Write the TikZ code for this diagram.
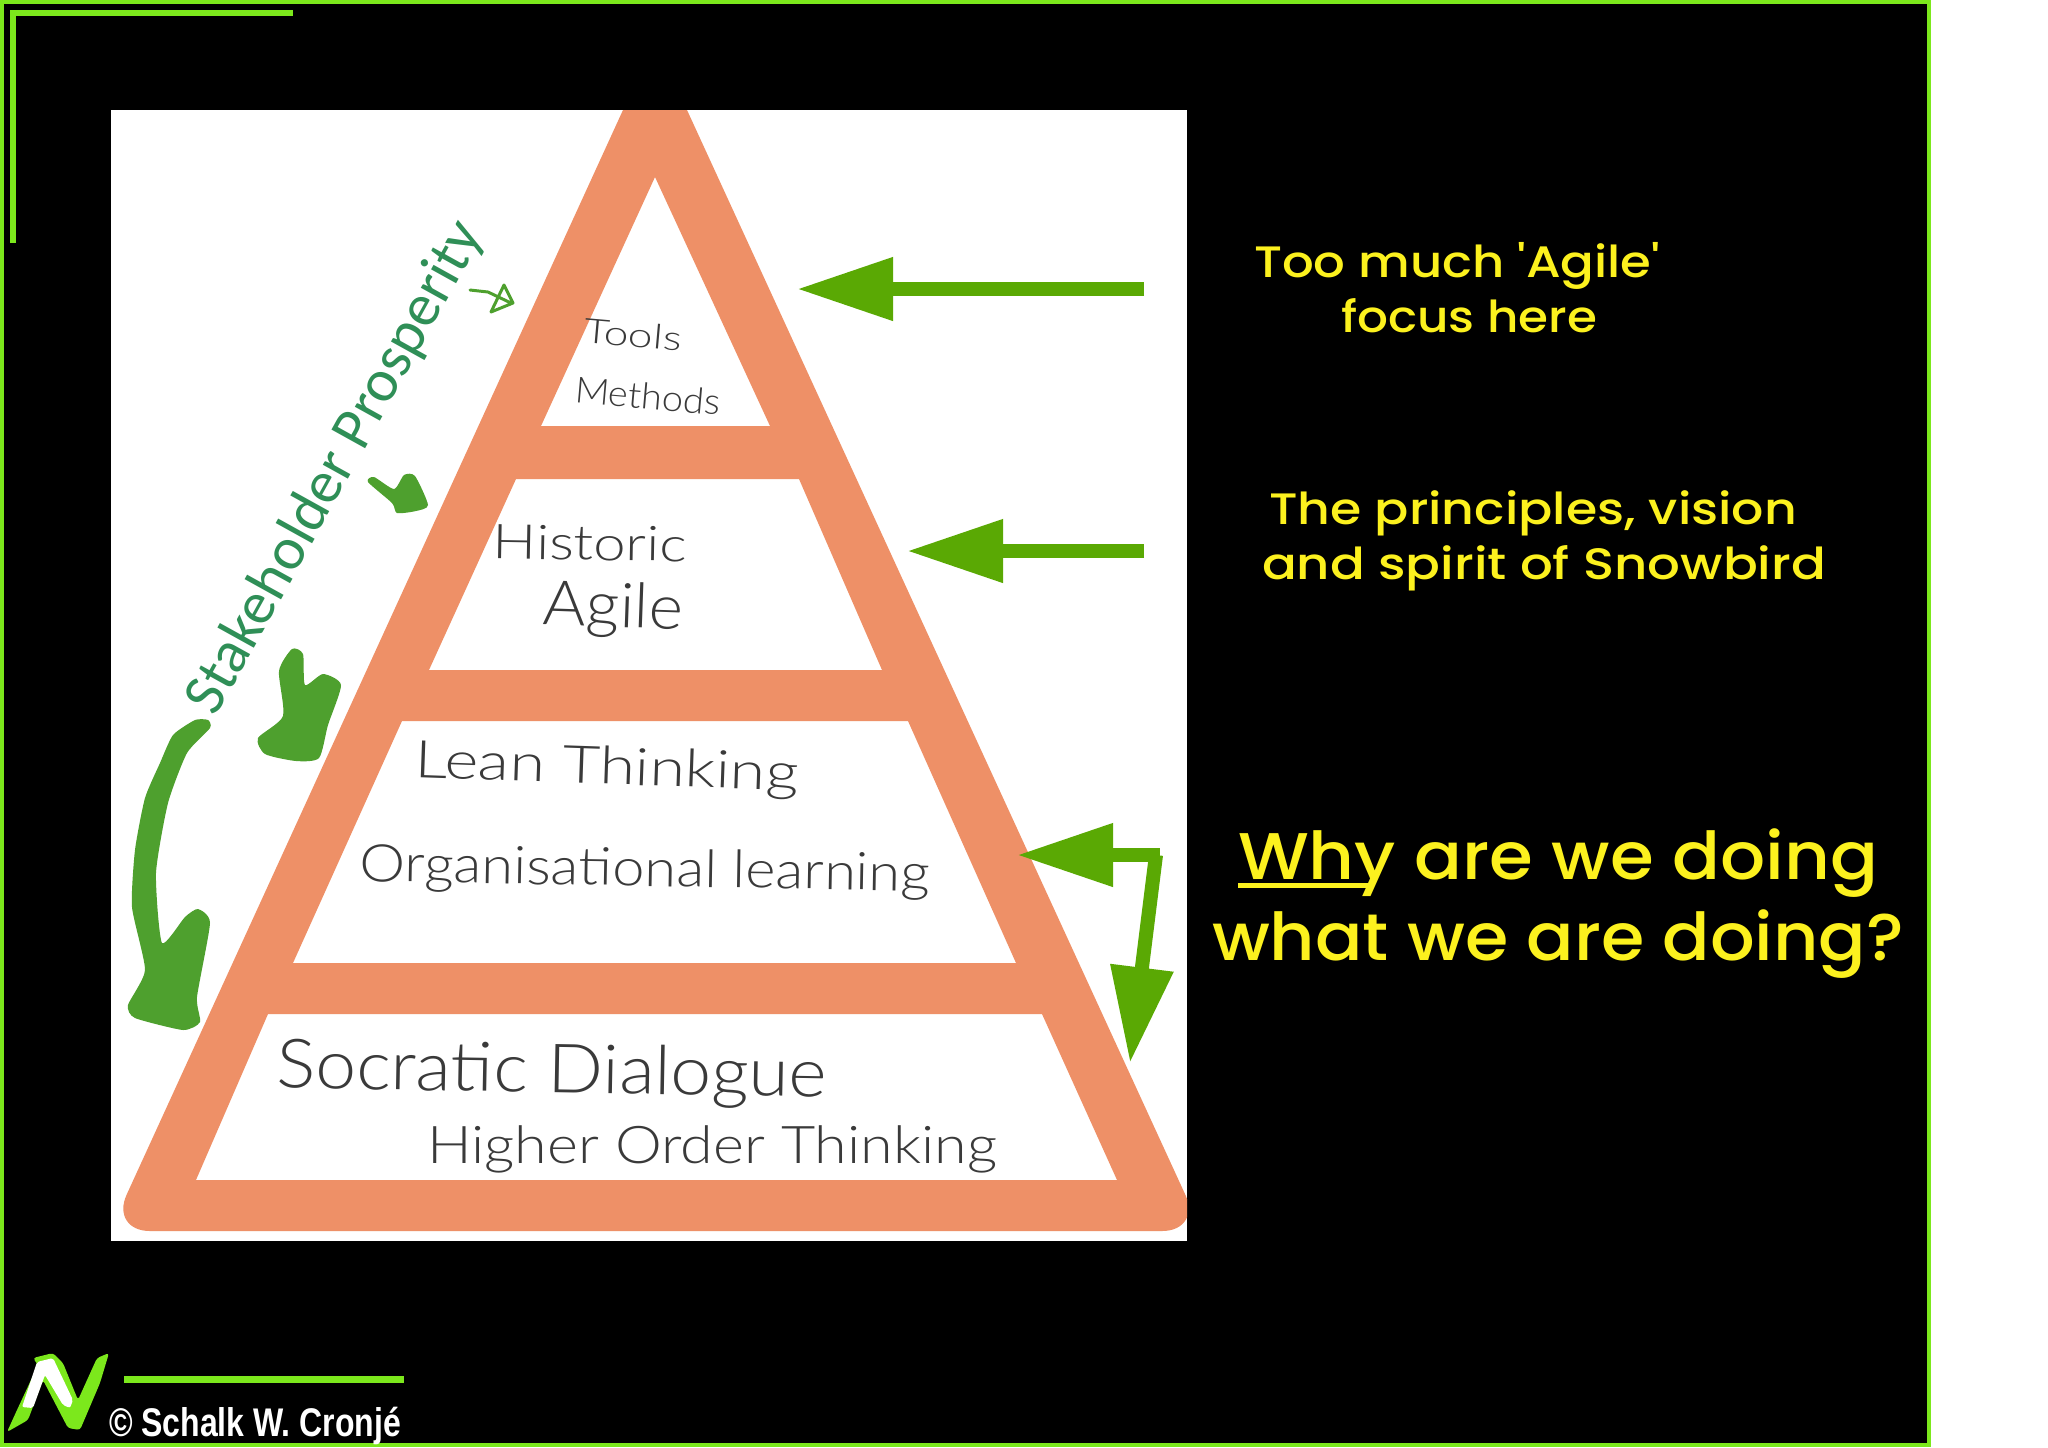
\documentclass[tikz,border=0pt]{standalone}
\usepackage{fontspec}
\usetikzlibrary{arrows.meta}
\setmainfont{Liberation Sans}
\newfontfamily\handfont{Lato Light}
\newfontfamily\chalkfont{Poppins Medium}
\newfontfamily\brandfont{Carlito}
\newsavebox\fitbox
\newcommand{\fitw}[2]{\sbox\fitbox{#2}\pgfmathsetmacro\fitr{#1/\the\wd\fitbox}\scalebox{\fitr}[1]{\usebox\fitbox}}
\definecolor{lime}{HTML}{7CE81C}
\definecolor{orng}{HTML}{EE9067}
\definecolor{arrowgreen}{HTML}{5AA904}
\definecolor{blobgreen}{HTML}{4EA02E}
\definecolor{brandgreen}{HTML}{2F8F57}
\definecolor{chalk}{HTML}{FCF11E}
\definecolor{ink}{HTML}{3A3A3A}
\tikzset{
  x=0.5pt,y=-0.5pt,
  hand/.style={inner sep=0pt,text=ink,font=\handfont\fontsize{#1}{#1}\selectfont},
  chalktext/.style={inner sep=0pt,text=chalk,font=\chalkfont\fontsize{#1}{#1}\selectfont},
  bigarrow/.style={draw=arrowgreen,line width=7pt,-{Triangle[length=48pt,width=30pt]}},
  rulebar/.style={draw=lime,line width=#1},
}
\begin{document}
\begin{tikzpicture}
\useasboundingbox (0,0) rectangle (2048,1447);
\fill[white] (0,0) rectangle (2048,1447);
\fill[black] (0,0) rectangle (1931,1447);
\draw[rulebar=2pt] (2,2) -- (1929,2) -- (1929,1445) -- (2,1445) -- cycle;
\draw[rulebar=3pt] (13,243) -- (13,13) -- (293,13);
\fill[white] (111,110) rectangle (1187,1241);
\begin{scope}
\clip (111,110) rectangle (1187,1241);
\fill[orng,even odd rule]
  (623,110) -- (687,110) [rounded corners=20pt] -- (1202,1231) -- (110,1231) [sharp corners] -- cycle
  (655,177) -- (770,426) -- (541,426) -- cycle
  (516,479) -- (799,479) -- (882,670) -- (429,670) -- cycle
  (402,721) -- (908,721) -- (1016,963) -- (293,963) -- cycle
  (268,1014) -- (1042,1014) -- (1117,1180) -- (196,1180) -- cycle;
\end{scope}

% hand-drawn green marks
\draw[blobgreen,line width=1.5pt,line join=round,line cap=round] (470,290) -- (488,292) -- (511,303) (504,285) -- (513,303) -- (491,312) -- cycle;
\fill[blobgreen] plot[smooth cycle,tension=0.4] coordinates {(368,482) (374,477) (394,489) (404,475) (415,476) (428,505) (416,511) (397,513) (392,503)};
\fill[blobgreen] plot[smooth cycle,tension=0.4] coordinates {(292,649) (303,654) (305,685) (323,674) (341,685) (328,725) (319,758) (296,761) (265,754) (258,738) (283,716) (279,671)};
\fill[blobgreen] plot[smooth cycle,tension=0.35] coordinates {(208,720) (195,720) (173,735) (160,763) (145,798) (135,850) (132,907) (145,970) (128,1005) (135,1018) (183,1030) (200,1022) (197,997) (210,923) (198,909) (185,917) (162,943) (156,873) (168,803) (187,753) (210,728)};

\node[inner sep=0pt,text=brandgreen,font=\brandfont\fontsize{30}{30}\selectfont,rotate=61] (prosperity) at (336,468) {Stakeholder Prosperity};

\node[hand=17,rotate=-5] (tools) at (633,335) {\fitw{49}{Tools}};
\node[hand=18,rotate=-5] (methods) at (648,396) {\fitw{73}{Methods}};
\node[hand=24,rotate=-1] (historic) at (590,543) {\fitw{97}{Historic}};
\node[hand=31,rotate=-2] (agile) at (613,610) {\fitw{70}{Agile}};
\node[hand=26,rotate=-2] (lean) at (607,770) {\fitw{192}{Lean Thinking}};
\node[hand=26,rotate=-1] (org) at (645,872) {\fitw{285}{Organisational learning}};
\node[hand=34,rotate=-1] (socratic) at (552,1074) {\fitw{275}{Socratic Dialogue}};
\node[hand=26,rotate=0] (higher) at (712,1149) {\fitw{285}{Higher Order Thinking}};

% green arrows
\coordinate (a1s) at (1144,289);
\coordinate (a1e) at (797,289);
\coordinate (a2s) at (1144,551);
\coordinate (a2e) at (907,551);
\coordinate (a3s) at (1160,855);
\coordinate (a3e) at (1017,855);
\coordinate (a4s) at (1156,855);
\coordinate (a4e) at (1130,1063);
\draw[bigarrow] (a1s) -- (a1e);
\draw[bigarrow] (a2s) -- (a2e);
\draw[bigarrow] (a3s) -- (a3e);
\draw[bigarrow] (a4s) -- (a4e);

\node[chalktext=22] (t1) at (1457,266) {\fitw{203}{Too much 'Agile'}};
\node[chalktext=22] (t2) at (1469,316) {\fitw{128}{focus here}};
\node[chalktext=22] (t3) at (1533,513) {\fitw{264}{The principles, vision}};
\node[chalktext=22] (t4) at (1544,568) {\fitw{282}{and spirit of Snowbird}};
\node[chalktext=33] (t5) at (1558,863) {\fitw{320}{Why are we doing}};
\node[chalktext=33] (t6) at (1558,944) {\fitw{346}{what we are doing?}};
\coordinate (ula) at (1238,885);
\coordinate (ulb) at (1374,885);
\draw[draw=chalk,line width=2.5pt] (ula) -- (ulb);

% logo and credit
\fill[lime,rounded corners=1.5pt] (33,1358) -- (53,1353) -- (63,1363) -- (78,1400) -- (97,1358) -- (109,1353) -- (100,1383) -- (80,1430) -- (68,1428) -- (43,1380) -- (28,1420) -- (7,1432) -- (17,1410) -- (38,1365) -- cycle;
\fill[white,rounded corners=1pt] (37,1362) -- (53,1358) -- (73,1400) -- (70,1408) -- (63,1405) -- (45,1375) -- (33,1408) -- (22,1407) -- cycle;
\draw[rulebar=3.5pt] (124,1379) -- (404,1379);
\node[inner sep=0pt,text=white,font=\bfseries\fontsize{20}{20}\selectfont] (credit) at (255,1426) {\fitw{146}{© Schalk W. Cronjé}};
\end{tikzpicture}
\end{document}
